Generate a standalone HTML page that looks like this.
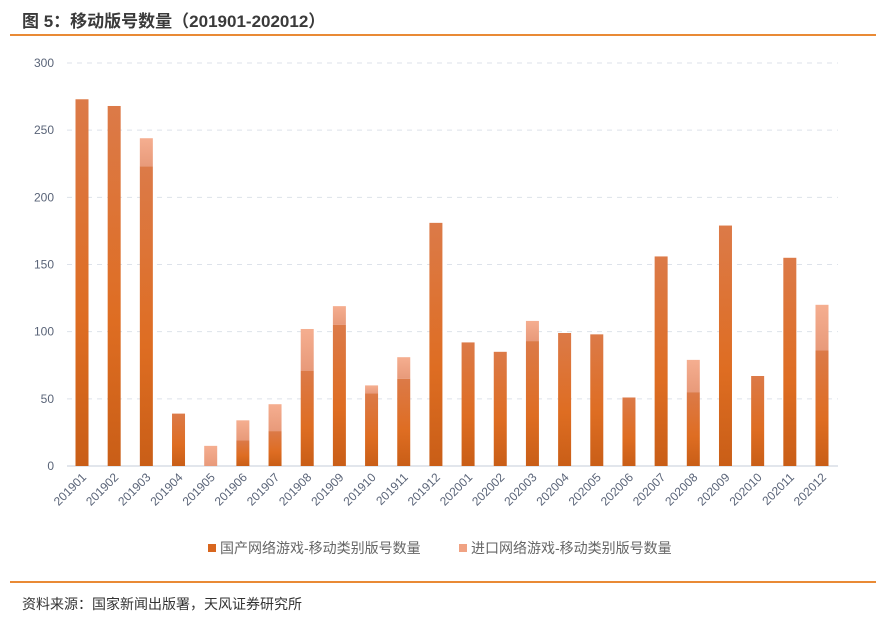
<!DOCTYPE html>
<html><head><meta charset="utf-8">
<style>
body{margin:0;width:889px;height:623px;background:#fff;overflow:hidden;font-family:"Liberation Sans","Noto Sans CJK SC",sans-serif;}
#title{position:absolute;left:22px;top:7px;font-size:17px;font-weight:bold;color:#3a3a3a;}
#src{position:absolute;left:22px;top:594px;font-size:14px;color:#333;}
svg{position:absolute;left:0;top:0;}
</style></head>
<body>
<div id="title">图 5：移动版号数量（201901-202012）</div>
<svg id="chart" width="889" height="623">
<defs>
<linearGradient id="gd" x1="0" y1="0" x2="0" y2="1"><stop offset="0" stop-color="#dc7a48"/><stop offset="0.6" stop-color="#de6d22"/><stop offset="1" stop-color="#c95e17"/></linearGradient>
<linearGradient id="gi" x1="0" y1="0" x2="0" y2="1"><stop offset="0" stop-color="#f5ae90"/><stop offset="1" stop-color="#e89a7a"/></linearGradient>
</defs>
<line x1="10" y1="35" x2="876" y2="35" stroke="#e98a35" stroke-width="2"/>
<line x1="10" y1="582" x2="876" y2="582" stroke="#e98a35" stroke-width="2"/>
<g id="grid"></g><g id="bars"></g><g id="labels"></g>
<g>
<rect x="208" y="544" width="8" height="8" fill="#d8661e"/>
<text x="220" y="553" font-size="14" fill="#666">国产网络游戏-移动类别版号数量</text>
<rect x="459" y="544" width="8" height="8" fill="#f0a283"/>
<text x="471" y="553" font-size="14" fill="#666">进口网络游戏-移动类别版号数量</text>
</g>
</svg>
<div id="src">资料来源：国家新闻出版署，天风证券研究所</div>
<script>
const categories=["201901","201902","201903","201904","201905","201906","201907","201908","201909","201910","201911","201912","202001","202002","202003","202004","202005","202006","202007","202008","202009","202010","202011","202012"];
const domestic=[273,268,223,39,0,19,26,71,105,54,65,181,92,85,93,99,98,51,156,55,179,67,155,86];
const imported=[0,0,21,0,15,15,20,31,14,6,16,0,0,0,15,0,0,0,0,24,0,0,0,34];
const yTicks=[0,50,100,150,200,250,300];
const NS="http://www.w3.org/2000/svg";
const y0=466,yTop=63,yMax=300,x0=82,step=(822-82)/23,bw=13;
const y=v=>y0-v*(y0-yTop)/yMax;
const x=i=>x0+i*step;
const grid=document.getElementById('grid'),bars=document.getElementById('bars'),labels=document.getElementById('labels');
yTicks.forEach(t=>{
 const l=document.createElementNS(NS,'line');
 
 
 l.setAttribute('x1',67);l.setAttribute('x2',838);l.setAttribute('y1',y(t));l.setAttribute('y2',y(t));
 l.setAttribute('stroke',t===0?'#d9dee6':'#dde2ea');l.setAttribute('stroke-width',t===0?1.5:1);
 if(t!==0)l.setAttribute('stroke-dasharray','5,5');
 grid.appendChild(l);
 const tx=document.createElementNS(NS,'text');
 
 
 tx.setAttribute('x',54);tx.setAttribute('y',y(t)+4);tx.setAttribute('text-anchor','end');
 tx.setAttribute('font-size','12');tx.setAttribute('fill','#5a6478');tx.textContent=t;
 grid.appendChild(tx);
});
categories.forEach((c,i)=>{
 const cx=x(i);
 if(domestic[i]>0){
  const r=document.createElementNS(NS,'rect');
  
  
  r.setAttribute('x',cx-bw/2);r.setAttribute('width',bw);r.setAttribute('y',y(domestic[i]));r.setAttribute('height',y0-y(domestic[i]));
  r.setAttribute('fill','url(#gd)');bars.appendChild(r);
 }
 if(imported[i]>0){
  const r=document.createElementNS(NS,'rect');
  
  
  const top=y(domestic[i]+imported[i]);
  r.setAttribute('x',cx-bw/2);r.setAttribute('width',bw);r.setAttribute('y',top);r.setAttribute('height',y(domestic[i])-top);
  r.setAttribute('fill','url(#gi)');bars.appendChild(r);
 }
 const t=document.createElementNS(NS,'text');
 
 
 t.setAttribute('x',cx+5);t.setAttribute('y',478);t.setAttribute('text-anchor','end');
 t.setAttribute('font-size','12');t.setAttribute('fill','#5a6478');
 t.setAttribute('transform','rotate(-45 '+(cx+5)+' 478)');
 t.textContent=c;labels.appendChild(t);
});
</script>
</body></html>
